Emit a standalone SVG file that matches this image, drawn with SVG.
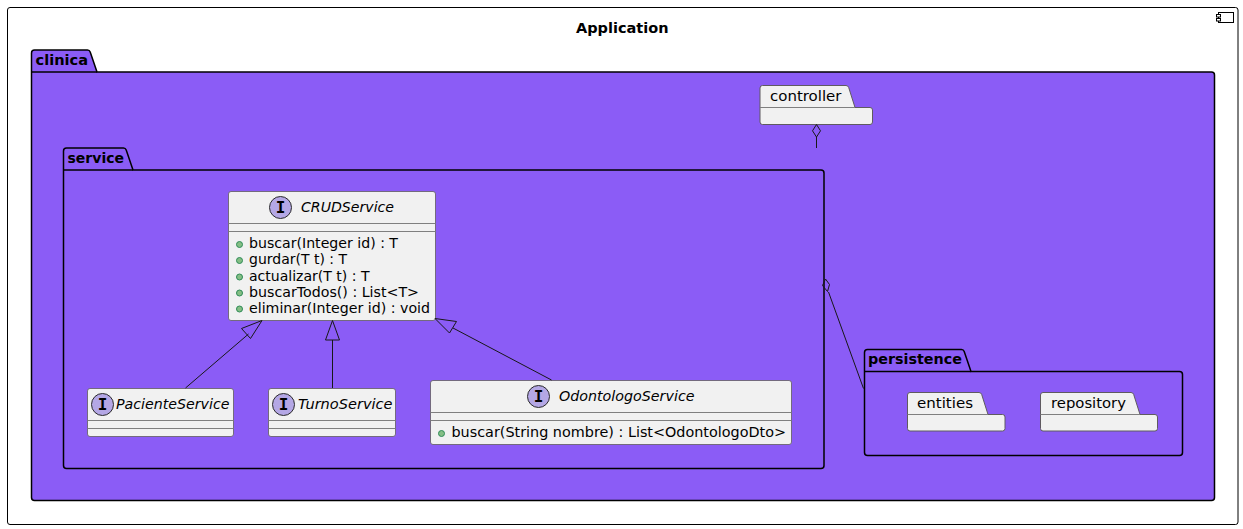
<svg xmlns="http://www.w3.org/2000/svg" width="1243" height="529" viewBox="0 0 1243 529">
<style>
text{font-family:"DejaVu Sans",sans-serif;font-size:14.3px;fill:#000}
.b{font-weight:bold}
.i{font-style:italic}
.pk{fill:#8B5CF6;stroke:#000;stroke-width:1.5;stroke-linejoin:round}
.sp{fill:#F1F1F1;stroke:#5F5A60;stroke-width:1;stroke-linejoin:round}
.cl{fill:#F1F1F1;stroke:#5F5A60;stroke-width:.8}
.dv{stroke:#7F7F7F;stroke-width:1;fill:none}
.ic{fill:#B4A7E5;stroke:#2B2B2B;stroke-width:1}
.mk{fill:#84BE84;stroke:#2E8B57;stroke-width:1}
.ln{stroke:#181818;stroke-width:1;fill:none}
.ah{stroke:#181818;stroke-width:1;fill:none;stroke-linejoin:miter}
.hd{stroke:#000;stroke-width:1.5;fill:none}
text.ig{font-family:"DejaVu Sans Mono",monospace;font-weight:bold;font-size:16px}
</style>
<g id="Application">
<rect x="7.5" y="7.5" width="1230.5" height="517" rx="2.5" fill="#fff" stroke="#000" stroke-width="1"/>
<rect x="1218.5" y="12.5" width="15" height="10" fill="#fff" stroke="#000" stroke-width="1"/>
<rect x="1216.5" y="14.5" width="4" height="2.5" fill="#fff" stroke="#000" stroke-width="1"/>
<rect x="1216.5" y="18.5" width="4" height="2.5" fill="#fff" stroke="#000" stroke-width="1"/>
<text x="576" y="33" class="b" textLength="92.5" lengthAdjust="spacingAndGlyphs">Application</text>
</g>
<g id="clinica">
<path class="pk" d="M34.5 50H87.5Q89.5 50 90.2 52L97 72H1211.5Q1214.5 72 1214.5 75V497.5Q1214.5 500.5 1211.5 500.5H34.5Q31.5 500.5 31.5 497.5V53Q31.5 50 34.5 50Z"/>
<path class="hd" d="M31.5 72H97"/>
<text x="35.5" y="65" class="b" textLength="52.5" lengthAdjust="spacingAndGlyphs">clinica</text>
</g>
<g id="service">
<path class="pk" d="M66.5 148H123.5Q125.5 148 126.2 150L133 170H821Q824 170 824 173V465.5Q824 468.5 821 468.5H66.5Q63.5 468.5 63.5 465.5V151Q63.5 148 66.5 148Z"/>
<path class="hd" d="M63.5 170H133"/>
<text x="67.5" y="162.7" class="b" textLength="56.5" lengthAdjust="spacingAndGlyphs">service</text>
</g>
<g id="persistence">
<path class="pk" d="M867.5 349.5H961.5Q963.5 349.5 964.2 351.5L971 371.5H1179.5Q1182.5 371.5 1182.5 374.5V452.5Q1182.5 455.5 1179.5 455.5H867.5Q864.5 455.5 864.5 452.5V352.5Q864.5 349.5 867.5 349.5Z"/>
<path class="hd" d="M864.5 371.5H971"/>
<text x="868" y="364" class="b" textLength="94" lengthAdjust="spacingAndGlyphs">persistence</text>
</g>
<g id="controller">
<path class="sp" d="M762.5 85.5H846Q848 85.5 848.7 87.5L855 107.5H870Q872.5 107.5 872.5 110V122Q872.5 124.5 870 124.5H762.5Q760 124.5 760 122V88Q760 85.5 762.5 85.5Z"/>
<path class="dv" d="M760 107.5H855"/>
<text x="770" y="101" textLength="71.5" lengthAdjust="spacingAndGlyphs">controller</text>
</g>
<g id="entities">
<path class="sp" d="M910 392.500H979Q981 392.500 981.700 394.500L988 414.500H1002.500Q1005 414.500 1005 417V428.500Q1005 431 1002.500 431H910Q907.500 431 907.500 428.500V395Q907.500 392.500 910 392.500Z"/>
<path class="dv" d="M907.500 414.500H988"/>
<text x="917" y="408" textLength="56" lengthAdjust="spacingAndGlyphs">entities</text>
</g>
<g id="repository">
<path class="sp" d="M1043 392.500H1131Q1133 392.500 1133.700 394.500L1140 414.500H1155Q1157.500 414.500 1157.500 417V428.500Q1157.500 431 1155 431H1043Q1040.500 431 1040.500 428.500V395Q1040.500 392.500 1043 392.500Z"/>
<path class="dv" d="M1040.500 414.500H1140"/>
<text x="1051" y="408" textLength="75" lengthAdjust="spacingAndGlyphs">repository</text>
</g>
<g id="CRUDService">
<rect class="cl" x="228.500" y="191.500" width="207" height="129" rx="2.500"/>
<path class="dv" d="M228.500 223.500H435.500M228.500 231.500H435.500"/>
<circle class="ic" cx="280.500" cy="207.500" r="11"/>
<text x="280.500" y="213" text-anchor="middle" class="ig">I</text>
<text x="301" y="211.500" class="i" textLength="93" lengthAdjust="spacingAndGlyphs">CRUDService</text>
<circle class="mk" cx="239.500" cy="244.500" r="3"/>
<text x="249" y="248" textLength="149" lengthAdjust="spacingAndGlyphs">buscar(Integer id) : T</text>
<circle class="mk" cx="239.500" cy="260.500" r="3"/>
<text x="249" y="264" textLength="98" lengthAdjust="spacingAndGlyphs">gurdar(T t) : T</text>
<circle class="mk" cx="239.500" cy="277" r="3"/>
<text x="249" y="280.500" textLength="120.500" lengthAdjust="spacingAndGlyphs">actualizar(T t) : T</text>
<circle class="mk" cx="239.500" cy="293" r="3"/>
<text x="249" y="296.500" textLength="170" lengthAdjust="spacingAndGlyphs">buscarTodos() : List&lt;T&gt;</text>
<circle class="mk" cx="239.500" cy="309" r="3"/>
<text x="249" y="312.500" textLength="181" lengthAdjust="spacingAndGlyphs">eliminar(Integer id) : void</text>
</g>
<g id="PacienteService">
<rect class="cl" x="87.500" y="388.500" width="146" height="48" rx="2.500"/>
<path class="dv" d="M87.500 420.500H233.500M87.500 428.500H233.500"/>
<circle class="ic" cx="102.500" cy="404.500" r="11"/>
<text x="102.500" y="410" text-anchor="middle" class="ig">I</text>
<text x="116" y="408.500" class="i" textLength="113.500" lengthAdjust="spacingAndGlyphs">PacienteService</text>
</g>
<g id="TurnoService">
<rect class="cl" x="268.500" y="388.500" width="127" height="48" rx="2.500"/>
<path class="dv" d="M268.500 420.500H395.500M268.500 428.500H395.500"/>
<circle class="ic" cx="283.500" cy="404.500" r="11"/>
<text x="283.500" y="410" text-anchor="middle" class="ig">I</text>
<text x="298" y="408.500" class="i" textLength="94.500" lengthAdjust="spacingAndGlyphs">TurnoService</text>
</g>
<g id="OdontologoService">
<rect class="cl" x="430.500" y="380.500" width="361" height="64" rx="2.500"/>
<path class="dv" d="M430.500 412.500H791.500M430.500 420.500H791.500"/>
<circle class="ic" cx="538.500" cy="396.500" r="11"/>
<text x="538.500" y="402" text-anchor="middle" class="ig">I</text>
<text x="559" y="400.500" class="i" textLength="135.500" lengthAdjust="spacingAndGlyphs">OdontologoService</text>
<circle class="mk" cx="441.500" cy="433.500" r="3"/>
<text x="451.500" y="437" textLength="334.500" lengthAdjust="spacingAndGlyphs">buscar(String nombre) : List&lt;OdontologoDto&gt;</text>
</g>
<g id="connectors">
<path class="ln" d="M185.500 388L248.500 334"/>
<path class="ah" d="M262 320.500L241.500 328.500L250.500 338.500Z"/>
<path class="ln" d="M332.500 388V340"/>
<path class="ah" d="M332.500 320.500L325.500 340H339.500Z"/>
<path class="ln" d="M551.500 380L453 328"/>
<path class="ah" d="M435 318.500L449.500 333L456.500 321.500Z"/>
<path class="ln" d="M816.500 148V137"/>
<path class="ah" d="M816.500 124.500L812.500 130.800L816.500 137L820.500 130.800Z"/>
<path class="ln" d="M863.500 388.500L828.500 292"/>
<path class="ah" d="M825.500 279L822.500 285.500L827.500 291.500L829.500 284.500Z"/>
</g>
</svg>
